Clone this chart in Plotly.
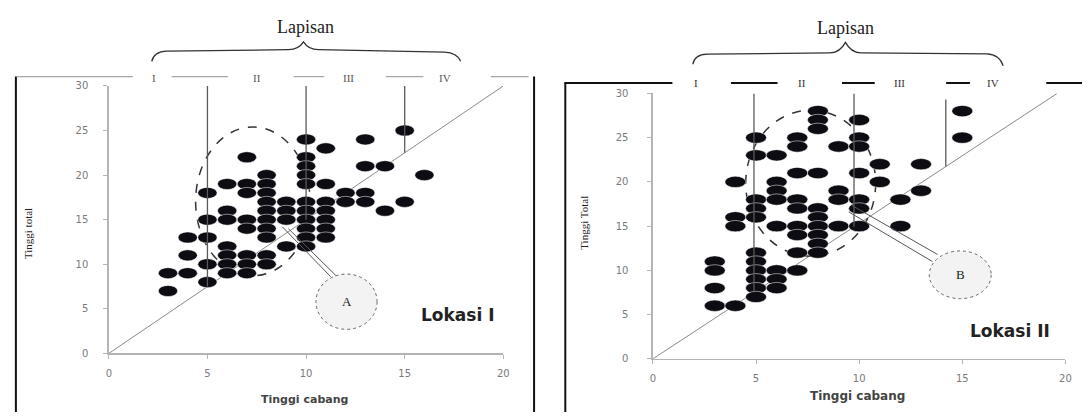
import plotly.graph_objects as go

W, H = 1088, 418

# ---------------- data ----------------
# Lokasi I : Tinggi cabang (x) vs Tinggi total (y)
lok1_x = [3, 3,
          4, 4, 4,
          5, 5, 5, 5, 5,
          6, 6, 6, 6, 6, 6, 6,
          7, 7, 7, 7, 7, 7, 7, 7,
          8, 8, 8, 8, 8, 8, 8, 8, 8, 8,
          9, 9, 9, 9,
          10, 10, 10, 10, 10, 10, 10, 10, 10, 10, 10,
          11, 11, 11, 11, 11, 11, 11,
          12, 12,
          13, 13, 13, 13,
          14, 14,
          15, 15,
          16]
lok1_y = [9, 7,
          13, 11, 9,
          18, 15, 13, 10, 8,
          19, 16, 15, 12, 11, 10, 9,
          22, 19, 18, 15, 14, 11, 10, 9,
          20, 19, 18, 17, 16, 15, 14, 13, 11, 10,
          17, 16, 15, 12,
          24, 22, 21, 20, 19, 17, 16, 15, 14, 13, 12,
          23, 19, 17, 16, 15, 14, 13,
          18, 17,
          24, 21, 18, 17,
          21, 16,
          25, 17,
          20]

# Lokasi II
lok2_x = [3, 3, 3, 3,
          4, 4, 4, 4,
          5, 5, 5, 5, 5, 5, 5, 5, 5, 5, 5,
          6, 6, 6, 6, 6, 6, 6, 6,
          7, 7, 7, 7, 7, 7, 7, 7, 7,
          8, 8, 8, 8, 8, 8, 8, 8, 8, 8,
          9, 9, 9, 9,
          10, 10, 10, 10, 10, 10, 10,
          11, 11,
          12, 12,
          13, 13,
          15, 15]
lok2_y = [11, 10, 8, 6,
          20, 16, 15, 6,
          25, 23, 18, 17, 16, 12, 11, 10, 9, 8, 7,
          23, 20, 19, 18, 15, 10, 9, 8,
          25, 24, 21, 18, 17, 15, 14, 12, 10,
          28, 27, 26, 21, 17, 16, 15, 14, 13, 12,
          24, 19, 18, 15,
          27, 25, 24, 21, 18, 17, 15,
          22, 20,
          18, 15,
          22, 19,
          28, 25]

x_ticks = [0, 5, 10, 15, 20]
y_ticks = [0, 5, 10, 15, 20, 25, 30]
lapisan_labels = ["I", "II", "III", "IV"]
bounds1 = [5, 10, 15]          # Lapisan boundaries, Lokasi I
bounds2 = [4.9, 9.75, 14.2]    # Lapisan boundaries, Lokasi II
diag1_end = (20, 30)
diag2_end = (19.6, 30)

# ---------------- helpers ----------------
def px(x):
    return x / W

def py(y):
    return 1 - y / H

def pp(x, y):
    return f"{px(x):.5f},{py(y):.5f}"

fig = go.Figure()

dot_color = "#0c0c12"

fig.add_trace(go.Scatter(x=lok1_x, y=lok1_y, mode="markers", xaxis="x", yaxis="y",
                         marker=dict(color=dot_color, size=10), hoverinfo="x+y",
                         showlegend=False))
fig.add_trace(go.Scatter(x=lok2_x, y=lok2_y, mode="markers", xaxis="x2", yaxis="y2",
                         marker=dict(color=dot_color, size=10), hoverinfo="x+y",
                         showlegend=False))

shapes = []
annotations = []

# --- diagonals (behind dots) ---
shapes.append(dict(type="line", xref="x", yref="y", x0=0, y0=0, x1=diag1_end[0], y1=diag1_end[1],
                   line=dict(color="#8a8a8a", width=1), layer="below"))
shapes.append(dict(type="line", xref="x2", yref="y2", x0=0, y0=0, x1=diag2_end[0], y1=diag2_end[1],
                   line=dict(color="#8a8a8a", width=1), layer="below"))

# --- dashed group ellipses (behind dots) ---
shapes.append(dict(type="circle", xref="x", yref="y", x0=4.4, x1=10.2, y0=8.7, y1=25.4,
                   line=dict(color="#333333", width=1.5, dash="dash"), layer="below"))
shapes.append(dict(type="circle", xref="x2", yref="y2", x0=4.5, x1=10.8, y0=11.6, y1=28.1,
                   line=dict(color="#333333", width=1.5, dash="dash"), layer="below"))

# --- dots as ellipses ---
for xs, ys, xr, yr, hw, hh in [(lok1_x, lok1_y, "x", "y", 0.49, 0.62),
                               (lok2_x, lok2_y, "x2", "y2", 0.51, 0.64)]:
    for xv, yv in zip(xs, ys):
        shapes.append(dict(type="circle", xref=xr, yref=yr,
                           x0=xv - hw, x1=xv + hw, y0=yv - hh, y1=yv + hh,
                           fillcolor=dot_color,
                           line=dict(color="rgba(255,255,255,0.5)", width=1)))

# --- vertical Lapisan boundary lines (from diagonal up to top) ---
for b in bounds1:
    shapes.append(dict(type="line", xref="x", yref="y", x0=b, x1=b,
                       y0=b * diag1_end[1] / diag1_end[0], y1=30.1,
                       line=dict(color="#5a5a5a", width=1.3)))
for b in bounds2:
    shapes.append(dict(type="line", xref="x2", yref="y2", x0=b, x1=b,
                       y0=b * diag2_end[1] / diag2_end[0], y1=30 if b < 12 else 29.3,
                       line=dict(color="#5a5a5a", width=1.3)))

# --- callouts ---
shapes.append(dict(type="path", xref="x", yref="y",
                   path="M 8.8 14.2 L 11.25 8.6 M 9.1 14.0 L 11.6 8.55",
                   line=dict(color="#555555", width=1)))
shapes.append(dict(type="circle", xref="x", yref="y", x0=10.5, x1=13.6, y0=2.7, y1=8.9,
                   fillcolor="#f3f3f3", line=dict(color="#666666", width=1, dash="dot")))
shapes.append(dict(type="path", xref="x2", yref="y2",
                   path="M 9.6 17.4 L 13.8 11.8 M 9.5 16.6 L 13.55 11.0",
                   line=dict(color="#555555", width=1)))
shapes.append(dict(type="circle", xref="x2", yref="y2", x0=13.4, x1=16.4, y0=6.8, y1=12.2,
                   fillcolor="#f3f3f3", line=dict(color="#666666", width=1, dash="dot")))
annotations.append(dict(xref="x", yref="y", x=12.05, y=5.8, text="A", showarrow=False,
                        font=dict(family="Liberation Serif", size=13, color="#222")))
annotations.append(dict(xref="x2", yref="y2", x=14.9, y=9.5, text="B", showarrow=False,
                        font=dict(family="Liberation Serif", size=13, color="#222")))

# --- panel frames ---
shapes.append(dict(type="line", xref="paper", yref="paper", x0=px(13), x1=px(13), y0=py(72.7), y1=py(418),
                   line=dict(color="#111", width=2)))
shapes.append(dict(type="line", xref="paper", yref="paper", x0=px(535.5), x1=px(535.5), y0=py(72.7), y1=py(418),
                   line=dict(color="#111", width=2)))
for a, b in [(14, 131), (170, 227), (293, 324), (386, 424), (492, 530)]:
    shapes.append(dict(type="line", xref="paper", yref="paper", x0=px(a), x1=px(b), y0=py(72.7), y1=py(72.7),
                       line=dict(color="#a8a8a8", width=1.2)))
shapes.append(dict(type="line", xref="paper", yref="paper", x0=px(567), x1=px(567), y0=py(79.3), y1=py(418),
                   line=dict(color="#111", width=2)))
for a, b in [(566, 675), (734, 781), (846, 879), (951, 975), (1052, 1088)]:
    shapes.append(dict(type="line", xref="paper", yref="paper", x0=px(a), x1=px(b), y0=py(79.3), y1=py(79.3),
                       line=dict(color="#111", width=2)))

# --- curly braces ---
brace1 = ("M " + pp(150, 57) + " Q " + pp(152, 47) + " " + pp(165, 46.5) +
          " L " + pp(288, 45) + " Q " + pp(298, 45) + " " + pp(303, 37) +
          " Q " + pp(308, 45) + " " + pp(318, 45) + " L " + pp(445, 47.5) +
          " Q " + pp(458, 48) + " " + pp(461.5, 57))
brace2 = ("M " + pp(695.6, 60) + " Q " + pp(697, 50) + " " + pp(710, 49.5) +
          " L " + pp(834, 48.3) + " Q " + pp(844, 48) + " " + pp(849.5, 37.5) +
          " Q " + pp(855, 48) + " " + pp(865, 48.3) + " L " + pp(992, 49.3) +
          " Q " + pp(1005, 50) + " " + pp(1008.5, 61.7))
for br in (brace1, brace2):
    shapes.append(dict(type="path", xref="paper", yref="paper", path=br,
                       line=dict(color="#333", width=1.3)))

# --- texts ---
def text(x, y, s, size, family, color="#222", angle=0, bold=False):
    annotations.append(dict(xref="paper", yref="paper", x=px(x), y=py(y),
                            xanchor="center", yanchor="middle", showarrow=False,
                            text=f"<b>{s}</b>" if bold else s, textangle=angle,
                            font=dict(family=family, size=size, color=color)))

text(305, 21.7, "Lapisan", 18, "Liberation Serif", "#222")
text(849.5, 22.7, "Lapisan", 18, "Liberation Serif", "#222")
for lab, xx in zip(lapisan_labels, [152.6, 256.5, 348, 446]):
    text(xx, 74, lab, 11, "Liberation Serif", "#555")
for lab, xx in zip(lapisan_labels, [699, 805.7, 903.6, 998]):
    text(xx, 79, lab, 11, "Liberation Serif", "#333")

text(458, 318, "Lokasi I", 17, "DejaVu Sans", "#222", bold=True)
text(1015, 335, "Lokasi II", 17, "DejaVu Sans", "#222", bold=True)
text(304, 405, "Tinggi cabang", 11, "DejaVu Sans", "#444", bold=True)
text(862, 402, "Tinggi cabang", 12, "DejaVu Sans", "#444", bold=True)
text(25, 234, "Tinggi total", 11, "Liberation Serif", "#222", angle=-90)
text(585, 223, "Tinggi Total", 11, "Liberation Serif", "#222", angle=-90)

axis_common = dict(showgrid=False, zeroline=False, showline=True, linecolor="#b4b4b4",
                   linewidth=1.5, ticks="outside", ticklen=4, tickcolor="#b4b4b4",
                   tickfont=dict(family="DejaVu Sans", size=10, color="#7a7a7a"),
                   fixedrange=True)

fig.update_layout(
    width=W, height=H,
    margin=dict(l=0, r=0, t=0, b=0),
    paper_bgcolor="white", plot_bgcolor="white",
    showlegend=False,
    xaxis=dict(domain=[px(106.7), px(504.5)], range=[0, 20], tickvals=x_ticks, anchor="y",
               ticklabelstandoff=6, **axis_common),
    yaxis=dict(domain=[py(357.7), py(82.3)], range=[0, 30], tickvals=y_ticks, anchor="x",
               ticklabelstandoff=13, **axis_common),
    xaxis2=dict(domain=[px(655.3), px(1071.3)], range=[0, 20], tickvals=x_ticks, anchor="y2",
                ticklabelstandoff=6, **axis_common),
    yaxis2=dict(domain=[py(363.3), py(90)], range=[0, 30], tickvals=y_ticks, anchor="x2",
                ticklabelstandoff=17, **axis_common),
    shapes=shapes,
    annotations=annotations,
)

fig.write_html("out.html",
               config={"displayModeBar": False, "staticPlot": True},
               post_script="document.body.style.margin='0';document.body.style.overflow='hidden';")
